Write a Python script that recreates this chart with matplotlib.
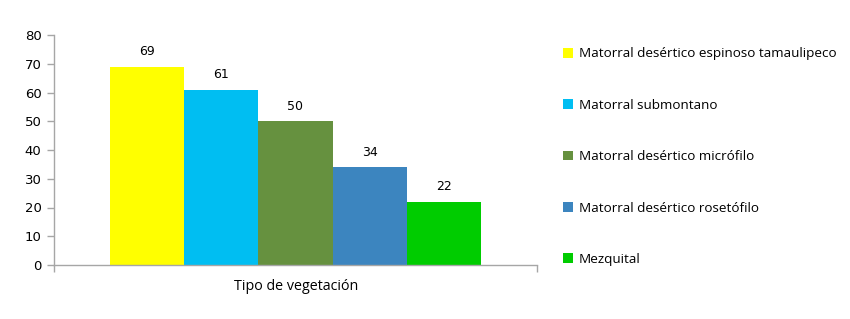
import matplotlib
matplotlib.use("Agg")
import matplotlib.pyplot as plt
from matplotlib.patches import Patch

categories = ["Matorral desértico espinoso tamaulipeco",
              "Matorral submontano",
              "Matorral desértico micrófilo",
              "Matorral desértico rosetófilo",
              "Mezquital"]
values = [69, 61, 50, 34, 22]
colors = ["#FFFF00", "#00BEF2", "#66913F", "#3C85BF", "#00CC00"]
yticks = [0, 10, 20, 30, 40, 50, 60, 70, 80]
xlabel = "Tipo de vegetación"

fig = plt.figure(figsize=(8.5, 3.19), dpi=100)
ax = fig.add_axes([54/850, 1-265/319, (537-54)/850, (265-35)/319])

positions = [i - 2 for i in range(len(values))]
bars = ax.bar(positions, values, width=1.0, color=colors, edgecolor="none")
for p, v in zip(positions, values):
    ax.text(p, v + 2.9, str(v), ha="center", va="bottom",
            fontsize=9, family="DejaVu Sans", color="#000000")

half = 3.246
ax.set_xlim(-half, half)
ax.set_ylim(0, 80)
ax.set_yticks(yticks)
ax.set_yticklabels([str(t) for t in yticks], fontsize=9.5, family="DejaVu Sans")
ax.set_xticks([-half, half])
ax.set_xticklabels(["", ""])
ax.tick_params(axis="both", direction="out", length=5, color="#A6A6A6", width=1)
ax.tick_params(axis="y", pad=4)
for s in ["top", "right"]:
    ax.spines[s].set_visible(False)
for s in ["left", "bottom"]:
    ax.spines[s].set_color("#A6A6A6")
    ax.spines[s].set_linewidth(1)

fig.text(296/850, 1-286/319, xlabel, ha="center", va="center",
         fontsize=10.3, family="Open Sans")

handles = [Patch(facecolor=c, edgecolor="none") for c in colors]
leg = fig.legend(handles, categories, loc="upper left",
                 bbox_to_anchor=(558/850, 1-42/319), frameon=False,
                 prop={"family": "Open Sans", "size": 9.7},
                 handlelength=0.75, handleheight=0.75, handletextpad=0.4,
                 labelspacing=2.85, borderaxespad=0)

fig.savefig("out.png", dpi=100)
